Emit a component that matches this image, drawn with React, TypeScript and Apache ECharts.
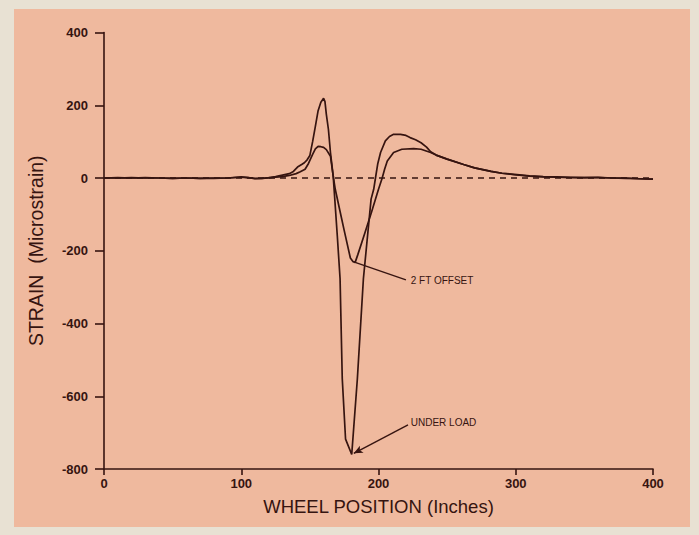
import React, { useEffect, useRef } from "react";
import * as echarts from "echarts";

// Wheel position (inches) and strain (microstrain)
const underLoadX = [0, 10, 20, 30, 40, 50, 60, 70, 80, 90, 100, 105, 110, 115, 120, 125, 130, 135, 138, 141, 144, 146, 148, 150, 152, 154, 156, 158, 160, 161, 162, 163.5, 165, 167, 170, 172, 173.6, 176, 180.5, 184.6, 189, 194.6, 196.5, 197.8, 199.5, 201.5, 205, 208, 211, 216, 220, 223, 227, 231, 235, 238, 242, 250, 262, 270, 282, 290, 299, 310, 320, 330, 340, 350, 360, 370, 380, 390, 400];
const underLoadY = [0, 1, 0, 1, 0, -1, 0, -1, -1, 0, 3, 1, -2, -1, 1, 4, 8, 12, 18, 30, 37, 42, 50, 62, 100, 142, 185, 208, 219, 210, 175, 134, 70, 5, -160, -277, -552, -718, -760, -552, -277, -58, -31, 0, 40, 70, 102, 114, 120, 120, 117, 111, 105, 97, 85, 72, 63, 52, 37, 28, 18, 13, 9, 5, 3, 2, 1, 1, 2, 0, 0, -2, -3];

const offsetX = [0, 10, 20, 30, 40, 50, 60, 70, 80, 90, 100, 105, 110, 115, 120, 125, 130, 135, 140, 143, 146.5, 149, 152, 154, 156, 158, 160, 162, 165, 167, 168.5, 172, 175, 179.5, 181.5, 183, 185, 190, 195, 200, 202.7, 204.5, 206.4, 211, 217, 225.6, 231, 238, 242, 250, 262, 270, 282, 290, 299, 310, 320, 330, 340, 350, 360, 370, 380, 390, 400];
const offsetY = [0, 0, 1, 0, 0, -1, 0, -1, 0, 0, 2, 1, -1, -1, 0, 2, 4, 7, 12, 17, 24, 40, 65, 80, 87, 86, 84, 78, 60, 5, -31, -92, -144, -220, -230, -232, -210, -152, -93, -31, 0, 25, 47, 70, 79, 81, 79, 70, 63, 52, 37, 28, 18, 13, 10, 6, 4, 3, 2, 1, 1, 0, -1, -2, -3];

const xTicks = { min: 0, max: 400, interval: 100 };
const yTicks = { min: -800, max: 400, interval: 200 };

// Annotation anchors, in data coordinates
const offsetPointerFrom = [183, -232];
const offsetPointerTo = [220, -280];
const offsetLabelAt = [223.5, -283];
const underArrowFrom = [221.5, -679];
const underArrowTo = [182, -757];
const underLabelAt = [223.5, -673];

const INK = "#361410";
const FONT = "Liberation Sans, Arial, sans-serif";

function zip(xs: number[], ys: number[]) {
  return xs.map((x, i) => [x, ys[i]]);
}

export default function App() {
  const ref = useRef<HTMLDivElement>(null);

  useEffect(() => {
    if (!ref.current) return;
    const chart = echarts.init(ref.current, null, { renderer: "svg" });
    const tickLabel = {
      color: INK,
      fontSize: 13,
      fontWeight: "bold" as const,
      fontFamily: FONT,
    };
    chart.setOption({
      animation: false,
      backgroundColor: "transparent",
      grid: { left: 104, right: 46, top: 32.5, bottom: 66 },
      xAxis: {
        type: "value",
        min: xTicks.min,
        max: xTicks.max,
        interval: xTicks.interval,
        name: "WHEEL POSITION (Inches)",
        nameLocation: "middle",
        nameGap: 28,
        nameTextStyle: { color: INK, fontSize: 18.5, fontFamily: FONT },
        axisLine: { onZero: false, lineStyle: { color: INK, width: 1.6 } },
        axisTick: { length: 6, lineStyle: { color: INK, width: 1.6 } },
        axisLabel: { ...tickLabel, margin: 8 },
        splitLine: { show: false },
      },
      yAxis: {
        type: "value",
        min: yTicks.min,
        max: yTicks.max,
        interval: yTicks.interval,
        name: "STRAIN  (Microstrain)",
        nameLocation: "middle",
        nameGap: 58,
        nameRotate: 90,
        nameTextStyle: { color: INK, fontSize: 19.5, fontFamily: FONT },
        axisLine: { onZero: false, lineStyle: { color: INK, width: 1.6 } },
        axisTick: { length: 9, lineStyle: { color: INK, width: 1.6 } },
        axisLabel: { ...tickLabel, margin: 16 },
        splitLine: { show: false },
      },
      series: [
        {
          name: "2 FT OFFSET",
          type: "line",
          data: zip(offsetX, offsetY),
          showSymbol: false,
          symbol: "none",
          z: 3,
          lineStyle: { color: INK, width: 1.7 },
          markLine: {
            silent: true,
            symbol: ["none", "none"],
            label: { show: false },
            z: 1,
            data: [
              [
                { coord: offsetPointerFrom, lineStyle: { color: INK, width: 1.4, type: "solid" } },
                { coord: offsetPointerTo },
              ],
              { yAxis: 0, lineStyle: { color: INK, width: 1.6, type: [6, 5] } },
            ],
          },
        },
        {
          name: "UNDER LOAD",
          type: "line",
          data: zip(underLoadX, underLoadY),
          showSymbol: false,
          symbol: "none",
          z: 3,
          lineStyle: { color: INK, width: 1.7 },
          markLine: {
            silent: true,
            symbol: ["none", "arrow"],
            symbolSize: [6, 9],
            label: { show: false },
            data: [
              [
                { coord: underArrowFrom, lineStyle: { color: INK, width: 1.4, type: "solid" } },
                { coord: underArrowTo },
              ],
            ],
          },
        },
      ],
    });
    const p1 = chart.convertToPixel({ gridIndex: 0 }, offsetLabelAt) as number[];
    const p2 = chart.convertToPixel({ gridIndex: 0 }, underLabelAt) as number[];
    const labelStyle = {
      fill: INK,
      fontSize: 10,
      fontFamily: FONT,
      align: "left",
      verticalAlign: "middle",
    };
    chart.setOption({
      graphic: [
        { type: "text", x: p1[0], y: p1[1], style: { ...labelStyle, text: "2 FT OFFSET" } },
        { type: "text", x: p2[0], y: p2[1], style: { ...labelStyle, text: "UNDER LOAD" } },
      ],
    });
    return () => chart.dispose();
  }, []);

  return (
    <div
      style={{
        position: "fixed",
        left: 0,
        top: 0,
        width: 699,
        height: 535,
        background: "#e8e1d3",
      }}
    >
      <div
        style={{
          position: "absolute",
          left: 14,
          top: 9,
          width: 676,
          height: 518,
          background: "#efb99e",
        }}
      />
      <div ref={ref} style={{ position: "absolute", left: 0, top: 0, width: 699, height: 535 }} />
    </div>
  );
}
